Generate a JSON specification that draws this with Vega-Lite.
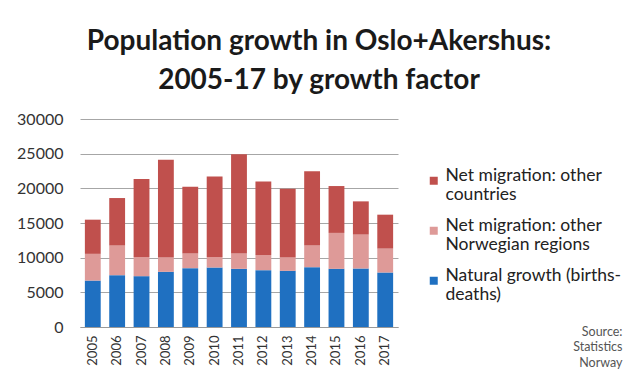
{
  "$schema": "https://vega.github.io/schema/vega-lite/v6.json",
  "autosize": {"type": "none"},
  "padding": {"left": 80, "top": 119, "right": 229, "bottom": 53},
  "width": 318,
  "height": 208,
  "background": "white",
  "title": {
    "text": ["Population growth in Oslo+Akershus:", "2005-17 by growth factor"],
    "font": "Lato",
    "fontSize": 28,
    "fontWeight": "bold",
    "color": "#1a1a1a",
    "lineHeight": 39,
    "anchor": "middle",
    "dx": 80,
    "offset": 16
  },
  "data": {"values": [
    {"year": "2005", "factor": "Natural growth (births-deaths)", "value": 6700},
    {"year": "2005", "factor": "Net migration: other Norwegian regions", "value": 3850},
    {"year": "2005", "factor": "Net migration: other countries", "value": 4930},
    {"year": "2006", "factor": "Natural growth (births-deaths)", "value": 7480},
    {"year": "2006", "factor": "Net migration: other Norwegian regions", "value": 4270},
    {"year": "2006", "factor": "Net migration: other countries", "value": 6850},
    {"year": "2007", "factor": "Natural growth (births-deaths)", "value": 7330},
    {"year": "2007", "factor": "Net migration: other Norwegian regions", "value": 2780},
    {"year": "2007", "factor": "Net migration: other countries", "value": 11220},
    {"year": "2008", "factor": "Natural growth (births-deaths)", "value": 7960},
    {"year": "2008", "factor": "Net migration: other Norwegian regions", "value": 2060},
    {"year": "2008", "factor": "Net migration: other countries", "value": 14090},
    {"year": "2009", "factor": "Natural growth (births-deaths)", "value": 8490},
    {"year": "2009", "factor": "Net migration: other Norwegian regions", "value": 2110},
    {"year": "2009", "factor": "Net migration: other countries", "value": 9630},
    {"year": "2010", "factor": "Natural growth (births-deaths)", "value": 8580},
    {"year": "2010", "factor": "Net migration: other Norwegian regions", "value": 1530},
    {"year": "2010", "factor": "Net migration: other countries", "value": 11610},
    {"year": "2011", "factor": "Natural growth (births-deaths)", "value": 8390},
    {"year": "2011", "factor": "Net migration: other Norwegian regions", "value": 2210},
    {"year": "2011", "factor": "Net migration: other countries", "value": 14330},
    {"year": "2012", "factor": "Natural growth (births-deaths)", "value": 8200},
    {"year": "2012", "factor": "Net migration: other Norwegian regions", "value": 2200},
    {"year": "2012", "factor": "Net migration: other countries", "value": 10600},
    {"year": "2013", "factor": "Natural growth (births-deaths)", "value": 8100},
    {"year": "2013", "factor": "Net migration: other Norwegian regions", "value": 1920},
    {"year": "2013", "factor": "Net migration: other countries", "value": 9920},
    {"year": "2014", "factor": "Natural growth (births-deaths)", "value": 8630},
    {"year": "2014", "factor": "Net migration: other Norwegian regions", "value": 3120},
    {"year": "2014", "factor": "Net migration: other countries", "value": 10730},
    {"year": "2015", "factor": "Natural growth (births-deaths)", "value": 8390},
    {"year": "2015", "factor": "Net migration: other Norwegian regions", "value": 5180},
    {"year": "2015", "factor": "Net migration: other countries", "value": 6760},
    {"year": "2016", "factor": "Natural growth (births-deaths)", "value": 8440},
    {"year": "2016", "factor": "Net migration: other Norwegian regions", "value": 4890},
    {"year": "2016", "factor": "Net migration: other countries", "value": 4790},
    {"year": "2017", "factor": "Natural growth (births-deaths)", "value": 7860},
    {"year": "2017", "factor": "Net migration: other Norwegian regions", "value": 3450},
    {"year": "2017", "factor": "Net migration: other countries", "value": 4890}
  ]},
  "mark": {"type": "bar"},
  "encoding": {
    "x": {
      "field": "year", "type": "ordinal",
      "scale": {"paddingInner": 0.35, "paddingOuter": 0.2},
      "axis": {
        "title": ["Source:", "Statistics", "Norway"],
        "titleFont": "Lato", "titleFontSize": 12.5, "titleFontWeight": "normal",
        "titleColor": "#555", "titleLineHeight": 15.5,
        "titleAlign": "right", "titleAnchor": "end", "titleBaseline": "top",
        "titleX": 542, "titleY": -2, "titleAngle": 0,
        "labelAngle": -90, "labelFont": "Lato", "labelFontSize": 13,
        "labelColor": "#333", "labelPadding": 8,
        "ticks": false, "domainColor": "#999", "domainWidth": 1,
        "grid": false
      }
    },
    "y": {
      "field": "value", "type": "quantitative", "aggregate": "sum", "stack": "zero",
      "scale": {"domain": [0, 30000]},
      "axis": {
        "title": null, "values": [0, 5000, 10000, 15000, 20000, 25000, 30000],
        "format": "d", "labelFont": "Lato", "labelFontSize": 16, "labelColor": "#333",
        "labelPadding": 17, "ticks": false, "domain": false,
        "gridColor": "#a6a6a6", "gridWidth": 1
      }
    },
    "color": {
      "field": "factor", "type": "nominal",
      "scale": {
        "domain": ["Net migration: other countries", "Net migration: other Norwegian regions", "Natural growth (births-deaths)"],
        "range": ["#C0504D", "#DE9A98", "#1F70C1"]
      },
      "legend": {
        "title": null, "orient": "none", "legendX": 345, "legendY": 53,
        "symbolType": "square", "symbolSize": 64, "symbolStrokeWidth": 0,
        "labelFont": "Lato", "labelFontSize": 17.5, "labelColor": "#222",
        "labelLineHeight": 22, "labelLimit": 300, "labelBaseline": "alphabetic",
        "rowPadding": 12, "labelOffset": 3,
        "labelExpr": "datum.label == 'Net migration: other countries' ? ['Net migration: other', 'countries'] : datum.label == 'Net migration: other Norwegian regions' ? ['Net migration: other', 'Norwegian regions'] : ['Natural growth (births-', 'deaths)']"
      }
    },
    "order": {"field": "factor", "sort": "ascending"}
  },
  "config": {"view": {"stroke": null}}
}
